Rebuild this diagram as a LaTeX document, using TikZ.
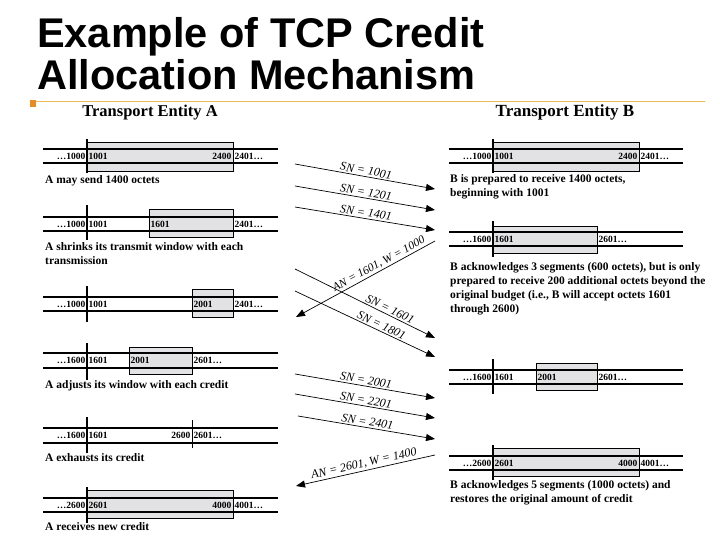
\documentclass[tikz,border=0pt]{standalone}
\usepackage{fontspec}
\setmainfont{Liberation Serif}
\newfontfamily\titlefont{Liberation Sans}
\usepackage{xcolor}
\definecolor{slideRule}{RGB}{236, 184, 92}
\definecolor{slideMark}{RGB}{232, 140, 34}
\definecolor{winGray}{RGB}{226, 226, 228}
\usepackage{tikz}
\usetikzlibrary{arrows.meta, positioning}

\begin{document}
\begin{tikzpicture}[
    x=1pt, y=-1pt,
    titleText/.style={
        font=\titlefont\fontsize{41.5}{43}\selectfont\bfseries,
        anchor=base west, inner sep=0pt
    },
    entityHead/.style={
        font=\fontsize{16.5}{18}\selectfont\bfseries, inner sep=0pt
    },
    tapeLine/.style={line width=1.6pt, draw=black},
    edgeMark/.style={line width=1.6pt, draw=black},
    winBox/.style={fill=winGray, draw=black, line width=0.6pt},
    numLeft/.style={
        font=\fontsize{9.5}{10}\selectfont\bfseries,
        anchor=west, inner sep=1.5pt
    },
    numRight/.style={
        font=\fontsize{9.5}{10}\selectfont\bfseries,
        anchor=east, inner sep=1.5pt
    },
    noteText/.style={
        font=\fontsize{11.5}{14}\selectfont\bfseries,
        anchor=north west, inner sep=0pt, align=left
    },
    segLine/.style={
        -{Triangle[length=9pt, width=7pt]}, line width=0.7pt, draw=black
    },
    seqLabel/.style={
        font=\fontsize{12}{13}\selectfont\itshape, sloped, above,
        inner sep=1.5pt
    }
]

    \useasboundingbox[fill=white] (0,0) rectangle (720,540);

    % Title
    \node[titleText] (title1) at (37,48) {Example of TCP Credit};
    \node[titleText] (title2) at (37,90) {Allocation Mechanism};
    \draw[slideRule, line width=0.8pt] (36,101) -- (705,101);
    \fill[slideMark] (30,100) rectangle (36,107);

    \node[entityHead] (headA) at (150,113) {Transport Entity A};
    \node[entityHead, font=\fontsize{17}{18}\selectfont\bfseries] (headB) at (565,112) {Transport Entity B};

    % Entity A, row 1
    \draw[winBox] (87,142) rectangle (233,171);
    \draw[tapeLine] (43,149) -- (278,149) (43,163) -- (278,163);
    \draw[edgeMark] (87,139) -- (87,173);
    \node[numRight] (a1p) at (87,156) {\ldots1000};
    \node[numLeft] (a1f) at (87,156) {1001};
    \node[numRight] (a1l) at (233,156) {2400};
    \node[numLeft] (a1n) at (233,156) {2401\ldots};
    \node[noteText] (a1note) at (45,175) {A may send 1400 octets};

    % Entity A, row 2
    \draw[winBox] (149,209) rectangle (233,237);
    \draw[tapeLine] (43,217) -- (278,217) (43,231) -- (278,231);
    \draw[edgeMark] (87,205) -- (87,240);
    \node[numRight] (a2p) at (87,224) {\ldots1000};
    \node[numLeft] (a2f) at (87,224) {1001};
    \node[numLeft] (a2w) at (149,224) {1601};
    \node[numLeft] (a2n) at (233,224) {2401\ldots};
    \node[noteText] (a2note) at (45,242) {A shrinks its transmit window with each\\transmission};

    % Entity A, row 3
    \draw[winBox] (192,289) rectangle (233,317);
    \draw[tapeLine] (43,297) -- (278,297) (43,311) -- (278,311);
    \draw[edgeMark] (87,286) -- (87,322);
    \node[numRight] (a3p) at (87,304) {\ldots1000};
    \node[numLeft] (a3f) at (87,304) {1001};
    \node[numLeft] (a3w) at (192,304) {2001};
    \node[numLeft] (a3n) at (233,304) {2401\ldots};

    % Entity A, row 4
    \draw[winBox] (129,347) rectangle (192,374);
    \draw[tapeLine] (43,353) -- (278,353) (43,368) -- (278,368);
    \draw[edgeMark] (87,343) -- (87,380);
    \node[numRight] (a4p) at (87,360) {\ldots1600};
    \node[numLeft] (a4f) at (87,360) {1601};
    \node[numLeft] (a4w) at (129,360) {2001};
    \node[numLeft] (a4n) at (192,360) {2601\ldots};
    \node[noteText] (a4note) at (45,380) {A adjusts its window with each credit};

    % Entity A, row 5
    \draw[tapeLine] (43,428) -- (278,428) (43,443) -- (278,443);
    \draw[edgeMark] (87,417) -- (87,453);
    \draw[edgeMark, line width=1pt] (192,420) -- (192,448);
    \node[numRight] (a5p) at (87,435) {\ldots1600};
    \node[numLeft] (a5f) at (87,435) {1601};
    \node[numRight] (a5l) at (192,435) {2600};
    \node[numLeft] (a5n) at (192,435) {2601\ldots};
    \node[noteText] (a5note) at (45,453) {A exhausts its credit};

    % Entity A, row 6
    \draw[winBox] (87,490) rectangle (233,518);
    \draw[tapeLine] (43,498) -- (278,498) (43,512) -- (278,512);
    \draw[edgeMark] (87,487) -- (87,523);
    \node[numRight] (a6p) at (87,505) {\ldots2600};
    \node[numLeft] (a6f) at (87,505) {2601};
    \node[numRight] (a6l) at (233,505) {4000};
    \node[numLeft] (a6n) at (233,505) {4001\ldots};
    \node[noteText] (a6note) at (45,522) {A receives new credit};

    % Entity B, row 1
    \draw[winBox] (493,142) rectangle (639,171);
    \draw[tapeLine] (449,149) -- (683,149) (449,163) -- (683,163);
    \draw[edgeMark] (493,139) -- (493,173);
    \node[numRight] (b1p) at (493,156) {\ldots1000};
    \node[numLeft] (b1f) at (493,156) {1001};
    \node[numRight] (b1l) at (639,156) {2400};
    \node[numLeft] (b1n) at (639,156) {2401\ldots};
    \node[noteText] (b1note) at (450,174) {B is prepared to receive 1400 octets,\\beginning with 1001};

    % Entity B, row 2
    \draw[winBox] (493,226) rectangle (597,253);
    \draw[tapeLine] (449,232) -- (683,232) (449,246) -- (683,246);
    \draw[edgeMark] (493,221) -- (493,257);
    \node[numRight] (b2p) at (493,239) {\ldots1600};
    \node[numLeft] (b2f) at (493,239) {1601};
    \node[numLeft] (b2n) at (597,239) {2601\ldots};
    \node[noteText] (b2note) at (450,262) {B acknowledges 3 segments (600 octets), but is only\\prepared to receive 200 additional octets beyond the\\original budget (i.e., B will accept octets 1601\\through 2600)};

    % Entity B, row 3
    \draw[winBox] (536,363) rectangle (597,390);
    \draw[tapeLine] (449,370) -- (683,370) (449,384) -- (683,384);
    \draw[edgeMark] (493,359) -- (493,394);
    \node[numRight] (b3p) at (493,377) {\ldots1600};
    \node[numLeft] (b3f) at (493,377) {1601};
    \node[numLeft] (b3w) at (536,377) {2001};
    \node[numLeft] (b3n) at (597,377) {2601\ldots};

    % Entity B, row 4
    \draw[winBox] (493,448) rectangle (639,476);
    \draw[tapeLine] (449,456) -- (683,456) (449,470) -- (683,470);
    \draw[edgeMark] (493,445) -- (493,480);
    \node[numRight] (b4p) at (493,463) {\ldots2600};
    \node[numLeft] (b4f) at (493,463) {2601};
    \node[numRight] (b4l) at (639,463) {4000};
    \node[numLeft] (b4n) at (639,463) {4001\ldots};
    \node[noteText] (b4note) at (450,480) {B acknowledges 5 segments (1000 octets) and\\restores the original amount of credit};

    % Segment end points
    \coordinate (sn1001a) at (295,164); \coordinate (sn1001b) at (435,189);
    \coordinate (sn1201a) at (295,186); \coordinate (sn1201b) at (435,210);
    \coordinate (sn1401a) at (295,207); \coordinate (sn1401b) at (435,230);
    \coordinate (an1601a) at (435,241); \coordinate (an1601b) at (296,317);
    \coordinate (sn1601a) at (295,269); \coordinate (sn1601b) at (435,338);
    \coordinate (sn1801a) at (295,291); \coordinate (sn1801b) at (435,357);
    \coordinate (sn2001a) at (295,374); \coordinate (sn2001b) at (435,398);
    \coordinate (sn2201a) at (295,394); \coordinate (sn2201b) at (435,418);
    \coordinate (sn2401a) at (298,416); \coordinate (sn2401b) at (435,439);
    \coordinate (an2601a) at (435,455); \coordinate (an2601b) at (296,486);

    % Connections
    \draw[segLine] (sn1001a) -- node[seqLabel] {SN = 1001} (sn1001b);
    \draw[segLine] (sn1201a) -- node[seqLabel] {SN = 1201} (sn1201b);
    \draw[segLine] (sn1401a) -- node[seqLabel] {SN = 1401} (sn1401b);
    \draw[segLine] (an1601a) -- node[seqLabel, pos=0.38, font=\fontsize{11.5}{12}\selectfont\itshape] {AN = 1601, W = 1000} (an1601b);
    \draw[segLine] (sn1601a) -- node[seqLabel, pos=0.66] {SN = 1601} (sn1601b);
    \draw[segLine] (sn1801a) -- node[seqLabel, pos=0.6] {SN = 1801} (sn1801b);
    \draw[segLine] (sn2001a) -- node[seqLabel] {SN = 2001} (sn2001b);
    \draw[segLine] (sn2201a) -- node[seqLabel] {SN = 2201} (sn2201b);
    \draw[segLine] (sn2401a) -- node[seqLabel] {SN = 2401} (sn2401b);
    \draw[segLine] (an2601a) -- node[seqLabel] {AN = 2601, W = 1400} (an2601b);

\end{tikzpicture}
\end{document}
